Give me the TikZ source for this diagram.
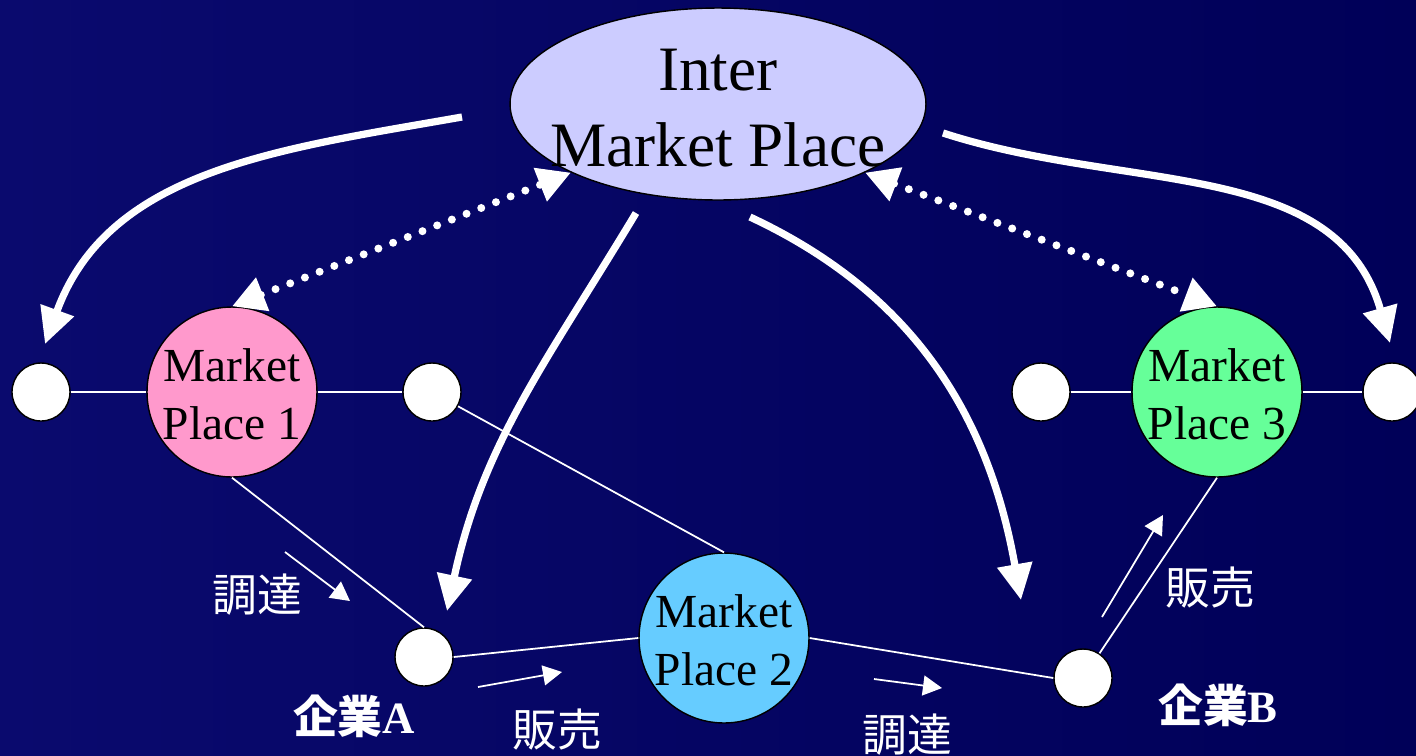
\documentclass[tikz,border=0pt]{standalone}
\usepackage{fontspec}
\setmainfont{Liberation Serif}
\newfontfamily\cjk{Noto Sans CJK JP}
\usetikzlibrary{arrows.meta,shapes.geometric}
\definecolor{bgL}{HTML}{0A0A6E}
\definecolor{bgM}{HTML}{000066}
\definecolor{bgR}{HTML}{000058}
\definecolor{impfill}{HTML}{CCCCFF}
\definecolor{mpone}{HTML}{FF99CC}
\definecolor{mptwo}{HTML}{66CCFF}
\definecolor{mpthree}{HTML}{66FF99}
\begin{document}
\begin{tikzpicture}[x=0.02cm,y=-0.02cm,
  mpnode/.style={circle,draw=black,line width=0.8pt,minimum size=3.4cm,inner sep=0pt},
  mptext/.style={align=center,font=\fontsize{27}{33}\selectfont,text=black,inner sep=0pt},
  dotnode/.style={circle,draw=black,fill=white,line width=0.8pt,minimum size=1.16cm,inner sep=0pt},
  linkline/.style={draw=white,line width=1pt},
  bigarrow/.style={draw=white,line width=0.145cm,-{Triangle[length=0.72cm,width=0.68cm]}},
  dotarrow/.style={draw=white,line width=0.16cm,line cap=round,dash pattern=on 0pt off 0.316cm,
     {Triangle[length=0.66cm,width=0.68cm]}-{Triangle[length=0.66cm,width=0.68cm]}},
  smallarrow/.style={draw=white,line width=1pt,-{Triangle[length=0.38cm,width=0.4cm]}},
  jlabel/.style={text=white,font=\cjk\fontsize{25.5}{30}\selectfont,inner sep=0pt},
  klabel/.style={text=white,font=\fontsize{25.5}{30}\selectfont\bfseries,inner sep=0pt}
]
\useasboundingbox (0,0) rectangle (1416,755);
\shade[left color=bgL, middle color=bgM, right color=bgR] (0,0) rectangle (1416,755);

% nodes
\node[ellipse,draw=black,fill=impfill,line width=0.8pt,minimum width=8.32cm,minimum height=3.84cm,inner sep=0pt] (imp) at (718,104) {};
\node[align=center,font=\fontsize{36}{43}\selectfont,inner sep=0pt] (imptext) at (718,108) {Inter\\Market Place};

\node[mpnode,fill=mpone] (mp1) at (232,392) {};
\node[mpnode,fill=mptwo] (mp2) at (724,638) {};
\node[mpnode,fill=mpthree] (mp3) at (1217,392) {};

\node[dotnode] (c1) at (41,392) {};
\node[dotnode] (c2) at (432,392) {};
\node[dotnode] (c3) at (1041,392) {};
\node[dotnode] (c4) at (1392,392) {};
\node[dotnode] (ka) at (424,657) {};
\node[dotnode] (kb) at (1083,678) {};

% thin links
\draw[linkline] (c1) -- (mp1);
\draw[linkline] (mp1) -- (c2);
\draw[linkline] (c3) -- (mp3);
\draw[linkline] (mp3) -- (c4);
\draw[linkline] (mp1.south) -- (ka.north);
\draw[linkline] (c2) -- (mp2.north);
\draw[linkline] (ka.east) -- (mp2.west);
\draw[linkline] (mp2.east) -- (kb.west);
\draw[linkline] (kb) -- (mp3.south);

\node[mptext] (mp1text) at (232,394) {Market\\Place 1};
\node[mptext] (mp2text) at (724,640) {Market\\Place 2};
\node[mptext] (mp3text) at (1217,394) {Market\\Place 3};

% dotted double arrows
\draw[dotarrow] (mp1.north) -- (imp.205);
\draw[dotarrow] (imp.335) -- (mp3.north);

% big arrows
\coordinate (b1s) at (462,117); \coordinate (b1e) at (45,344);
\coordinate (b2s) at (943,133); \coordinate (b2e) at (1390,343);
\coordinate (b3s) at (636,213); \coordinate (b3e) at (447,611);
\coordinate (b4s) at (750,217); \coordinate (b4e) at (1021,600);
\draw[bigarrow] (b1s) to[out=190,in=70] (b1e);
\draw[bigarrow] (b2s) to[out=-18,in=106] (b2e);
\draw[bigarrow] (b3s) to[out=239,in=78] (b3e);
\draw[bigarrow] (b4s) to[out=-25,in=100] (b4e);

% small arrows
\coordinate (s1s) at (285,552); \coordinate (s1e) at (350,601);
\coordinate (s2s) at (478,687); \coordinate (s2e) at (562,672);
\coordinate (s3s) at (874,679); \coordinate (s3e) at (942,688);
\coordinate (s4s) at (1102,617); \coordinate (s4e) at (1163,515);
\draw[smallarrow] (s1s) -- (s1e);
\draw[smallarrow] (s2s) -- (s2e);
\draw[smallarrow] (s3s) -- (s3e);
\draw[smallarrow] (s4s) -- (s4e);

% labels
\node[jlabel] (l1) at (257,595) {調達};
\node[jlabel] (l2) at (557,730) {販売};
\node[jlabel] (l3) at (907,735) {調達};
\node[jlabel] (l4) at (1210,588) {販売};
\node[klabel] (ta) at (354,716) {{\cjk 企業}A};
\node[klabel] (tb) at (1218,705) {{\cjk 企業}B};
\end{tikzpicture}
\end{document}
